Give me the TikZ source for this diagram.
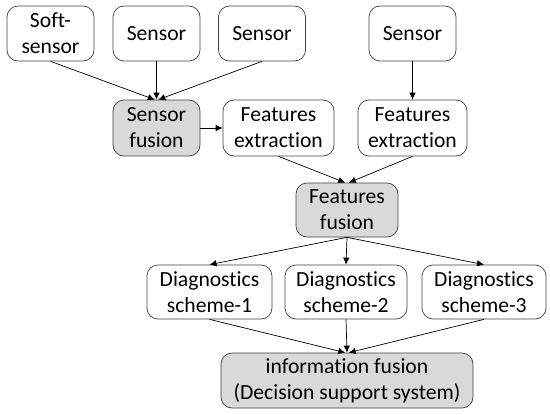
\documentclass[tikz,border=0pt]{standalone}
\usepackage{fontspec}
\setmainfont{Carlito}[Ligatures=NoCommon]
\usetikzlibrary{arrows.meta}
\usetikzlibrary{shapes.geometric, arrows, positioning}

\begin{document}
\begin{tikzpicture}[
    >={Latex[length=1.4mm,width=1.3mm]},
    every node/.style={font=\fontsize{12.3}{14.8}\selectfont, align=center},
    bx/.style={rectangle, rounded corners=2.2mm, draw=black!75, thin, inner sep=1pt, minimum height=1.1cm},
    fu/.style={bx, fill=black!15},
]
    \useasboundingbox (0,0) rectangle (11,-8.28);

    % capteurs
    \node[bx, minimum width=1.74cm] (soft) at (1.01,-0.67) {Soft-\\sensor};
    \node[bx, minimum width=1.74cm] (s1) at (3.13,-0.67) {Sensor};
    \node[bx, minimum width=1.74cm] (s2) at (5.24,-0.67) {Sensor};
    \node[bx, minimum width=1.74cm] (s3) at (8.25,-0.67) {Sensor};

    % fusion + extraction
    \node[fu, minimum width=1.74cm, minimum height=1.12cm] (sfus) at (3.13,-2.56) {Sensor\\fusion};
    \node[bx, minimum width=2.22cm, minimum height=1.12cm] (fe1) at (5.57,-2.56) {Features\\extraction};
    \node[bx, minimum width=2.18cm, minimum height=1.12cm] (fe2) at (8.25,-2.56) {Features\\extraction};

    \node[fu, minimum width=2.04cm, minimum height=1.08cm] (ffus) at (6.94,-4.2) {Features\\fusion};

    % diagnostics
    \node[bx, minimum width=2.5cm, minimum height=1.08cm] (d1) at (4.19,-5.84) {Diagnostics\\scheme-1};
    \node[bx, minimum width=2.44cm, minimum height=1.08cm] (d2) at (6.92,-5.84) {Diagnostics\\scheme-2};
    \node[bx, minimum width=2.48cm, minimum height=1.08cm] (d3) at (9.68,-5.84) {Diagnostics\\scheme-3};

    \node[fu, minimum width=5.04cm] (info) at (6.94,-7.61) {information fusion\\(Decision support system)};

    % capteurs -> fusion
    \draw[->] (soft.south) -- ([xshift=-1pt]sfus.north);
    \draw[->] (s1.south) -- (sfus.north);
    \draw[->] (s2.south) -- ([xshift=1pt]sfus.north);
    \draw[->] (s3.south) -- (fe2.north);
    \draw[->] (sfus) -- (fe1);

    % extraction -> features fusion
    \draw[->] (fe1.south) -- ([xshift=-1pt]ffus.north);
    \draw[->] (fe2.south) -- ([xshift=1pt]ffus.north);

    % features fusion -> diagnostics
    \draw[->] (ffus.south) -- (d1.north);
    \draw[->] (ffus.south) -- (d2.north);
    \draw[->] (ffus.south) -- (d3.north);

    % diagnostics -> information fusion
    \draw[->] (d1.south) -- ([xshift=-1pt]info.north);
    \draw[->] (d2.south) -- (info.north);
    \draw[->] (d3.south) -- ([xshift=1pt]info.north);

\end{tikzpicture}
\end{document}
